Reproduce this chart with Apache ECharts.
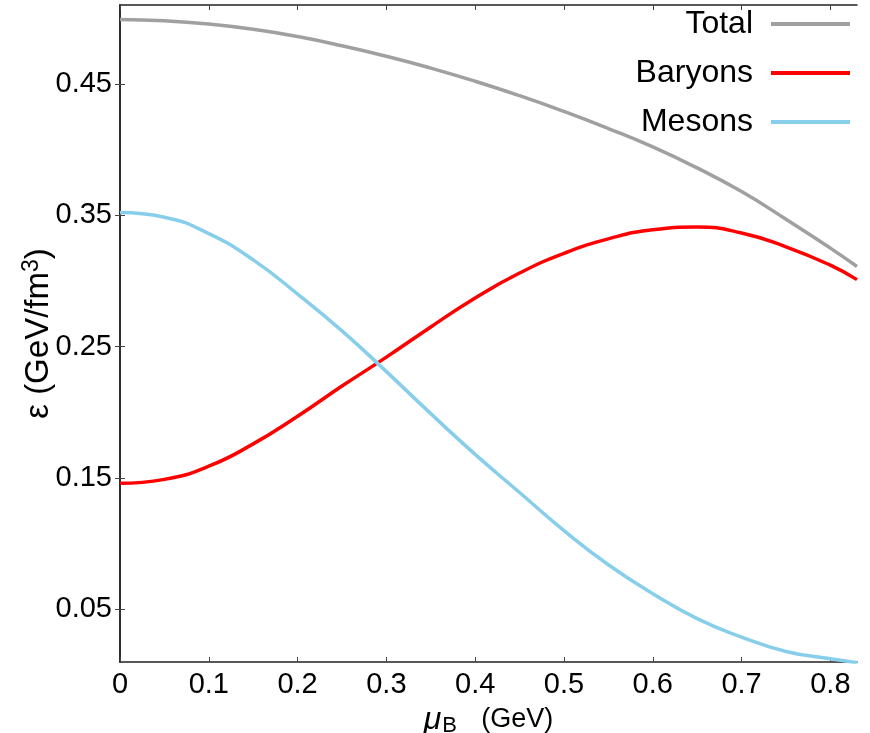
<!DOCTYPE html>
<html>
<head>
<meta charset="utf-8">
<script src="https://cdn.jsdelivr.net/npm/echarts@6/dist/echarts.min.js"></script>
<style>html,body{margin:0;padding:0;background:#fff}#c{width:870px;height:733px}</style>
</head>
<body>
<div id="c"></div>
<script>
const muB = [0.00, 0.05, 0.10, 0.15, 0.20, 0.25, 0.30, 0.35, 0.40, 0.45, 0.50, 0.55, 0.60, 0.65, 0.70, 0.75, 0.80, 0.83];
const total = [0.499, 0.498, 0.4955, 0.4915, 0.486, 0.479, 0.471, 0.462, 0.452, 0.441, 0.429, 0.416, 0.402, 0.386, 0.368, 0.347, 0.325, 0.311];
const baryons = [0.146, 0.149, 0.159, 0.176, 0.197, 0.220, 0.242, 0.265, 0.287, 0.306, 0.321, 0.332, 0.339, 0.341, 0.3365, 0.326, 0.312, 0.301];
const mesons = [0.352, 0.3485, 0.336, 0.316, 0.290, 0.262, 0.231, 0.199, 0.168, 0.139, 0.110, 0.084, 0.062, 0.043, 0.029, 0.018, 0.0125, 0.0095];
const xTicks = [0, 0.1, 0.2, 0.3, 0.4, 0.5, 0.6, 0.7, 0.8];
const yTicks = [0.05, 0.15, 0.25, 0.35, 0.45];
const names = ['Total', 'Baryons', 'Mesons'];
const colors = ['#a0a0a0', '#ff0000', '#87ceeb'];

const FONT = '"Liberation Sans", Arial, Helvetica, sans-serif';
const pairs = arr => muB.map((x, i) => [x, arr[i]]);
const axisLineStyle = { color: '#222', width: 1.5 };
const tick = { inside: true, length: 5, lineStyle: { color: '#444', width: 1 } };

const chart = echarts.init(document.getElementById('c'), null, { renderer: 'canvas' });
chart.setOption({
  animation: false,
  backgroundColor: '#fff',
  textStyle: { fontFamily: FONT },
  grid: { left: 120, right: 13, top: 5, bottom: 71, containLabel: false, outerBoundsMode: 'none' },
  legend: {
    data: names,
    orient: 'vertical',
    right: 15,
    top: 3,
    align: 'right',
    icon: 'rect',
    itemWidth: 79,
    itemHeight: 4,
    itemGap: 17,
    textStyle: { fontFamily: FONT, fontSize: 32, color: '#000', lineHeight: 32, padding: [0, 13, 0, 0] }
  },
  xAxis: [{
    type: 'value', min: 0, max: 0.83, position: 'bottom',
    name: '{mu|μ}{sub|B}{n| (GeV)}', nameLocation: 'middle', nameGap: 34,
    nameTextStyle: {
      rich: {
        mu: { fontFamily: FONT, fontSize: 32, fontStyle: 'italic', color: '#000', padding: [0, 1, 0, 0] },
        sub: { fontFamily: FONT, fontSize: 22, color: '#000', verticalAlign: 'bottom', padding: [12, 17, 0, 0] },
        n: { fontFamily: FONT, fontSize: 27, color: '#000' }
      }
    },
    axisLine: { show: true, lineStyle: axisLineStyle },
    axisTick: Object.assign({ customValues: xTicks }, tick),
    axisLabel: { customValues: xTicks, fontSize: 29, color: '#000', margin: 8, fontFamily: FONT,
      formatter: v => String(Math.round(v * 10) / 10) },
    splitLine: { show: false }
  }, {
    type: 'value', min: 0, max: 0.83, position: 'top',
    axisLine: { show: true, lineStyle: axisLineStyle },
    axisTick: Object.assign({ customValues: xTicks }, tick),
    axisLabel: { show: false },
    splitLine: { show: false }
  }],
  yAxis: [{
    type: 'value', min: 0.01, max: 0.51, position: 'left',
    name: '{n|ε (GeV/fm}{sup|3}{n|)}', nameLocation: 'middle', nameGap: 62, nameRotate: 90,
    nameMoveOverlap: false,
    nameTextStyle: {
      rich: {
        n: { fontFamily: FONT, fontSize: 33, color: '#000', lineHeight: 38 },
        sup: { fontFamily: FONT, fontSize: 23, color: '#000', verticalAlign: 'top', lineHeight: 38 }
      }
    },
    axisLine: { show: true, lineStyle: axisLineStyle },
    axisTick: Object.assign({ customValues: yTicks }, tick),
    axisLabel: { customValues: yTicks, fontSize: 29, color: '#000', margin: 8, fontFamily: FONT,
      formatter: v => v.toFixed(2) },
    splitLine: { show: false }
  }, {
    type: 'value', min: 0.01, max: 0.51, position: 'right',
    axisLine: { show: true, lineStyle: axisLineStyle },
    axisTick: Object.assign({ customValues: yTicks }, tick),
    axisLabel: { show: false },
    splitLine: { show: false }
  }],
  series: [
    { name: names[0], type: 'line', data: pairs(total), smooth: 0.5, showSymbol: false,
      lineStyle: { color: colors[0], width: 3.5 }, itemStyle: { color: colors[0] } },
    { name: names[1], type: 'line', data: pairs(baryons), smooth: 0.5, showSymbol: false,
      lineStyle: { color: colors[1], width: 3.5 }, itemStyle: { color: colors[1] } },
    { name: names[2], type: 'line', data: pairs(mesons), smooth: 0.5, showSymbol: false,
      lineStyle: { color: colors[2], width: 3.5 }, itemStyle: { color: colors[2] } }
  ]
});
</script>
</body>
</html>
